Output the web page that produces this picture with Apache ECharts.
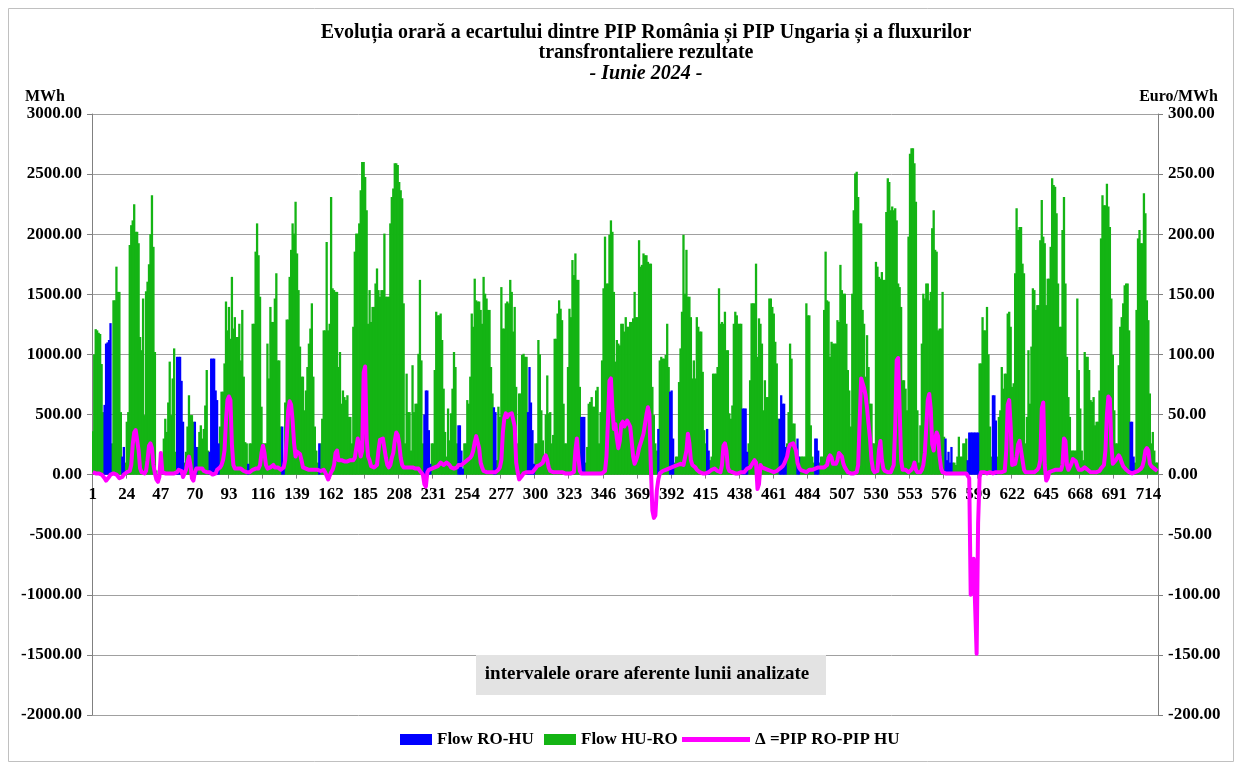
<!DOCTYPE html>
<html>
<head>
<meta charset="utf-8">
<script src="https://cdn.jsdelivr.net/npm/echarts@6/dist/echarts.min.js"></script>
<style>html,body{margin:0;padding:0;background:#fff;}#c{width:1242px;height:771px;}</style>
</head>
<body>
<div id="c"></div>
<script>
// ---------- DATA ----------
// Flow HU-RO (MWh), hours 1..720, one line per day
const greenFlow = [
360,1000,1210,1200,1180,1170,920,520,0,0,0,0,0,260,1450,1450,1730,1520,1520,520,0,0,100,440,
520,1910,2075,2115,2250,2020,2020,1925,1145,1035,1465,495,1525,1605,1750,2000,2325,1895,1020,35,0,0,0,0,
300,465,355,600,940,495,800,1050,190,0,0,0,0,0,100,190,400,660,495,495,440,0,0,230,
355,410,300,380,575,870,200,0,0,0,0,0,0,0,400,690,690,925,1440,1200,1395,1130,1645,1215,
1310,1145,1145,1255,950,1370,815,270,260,0,260,260,1255,1255,1855,2090,1825,1480,565,260,260,260,1090,800,
1395,1270,1270,1465,1675,950,950,400,0,0,600,1290,1290,1645,1870,2090,2005,2270,1840,1535,1065,815,815,535,
700,895,1090,1215,1425,815,400,200,100,0,260,465,1200,1200,1935,1200,1255,2310,1550,1535,1520,1520,895,1020,
590,700,645,620,660,480,480,260,1230,1855,2005,2005,2090,2365,2600,2600,2475,2200,1255,1535,1270,1395,1395,1590,
1715,1535,1480,1535,1535,2005,1480,1480,1480,2090,2310,2380,2590,2590,2575,2435,2365,2300,1425,260,840,520,520,200,
910,520,590,590,1005,1620,950,260,0,0,0,0,0,260,260,870,1355,1325,1325,1340,1120,715,355,150,
550,285,510,715,1020,895,260,0,0,0,0,260,260,620,590,815,1340,1230,1630,1450,1440,1440,1370,1255,
1645,1505,1465,1370,1370,895,675,0,0,120,565,480,1560,1215,1215,1425,1440,1425,1620,1520,1190,1395,730,260,
675,675,995,1005,980,980,0,0,0,0,0,260,260,1120,1000,535,285,150,500,825,510,520,260,330,
1130,1130,1340,1450,1380,1285,590,260,260,895,1380,1310,1785,1660,1840,1620,1620,730,0,0,0,100,230,590,
605,645,565,565,700,730,260,520,950,1550,1980,1590,1590,1995,2115,2020,1520,940,1120,1090,1075,1255,1255,1190,
1310,1230,1230,1270,1270,1300,1520,1310,1310,1950,1730,1745,1840,1825,1825,1770,1755,1755,730,495,260,200,0,950,
980,965,965,995,1255,895,0,0,0,100,150,150,770,1050,1355,1995,1505,1870,1480,1480,1310,800,950,800,
1310,1230,1190,1190,855,370,260,0,0,120,150,840,840,840,895,1550,1255,1270,1255,1355,1035,1035,510,465,
575,1255,1355,1325,1255,1255,1255,0,0,0,0,260,785,1425,1425,1425,1755,980,1300,1255,1090,535,785,645,
645,1465,1465,1395,1340,1105,925,465,0,0,0,0,0,260,520,1090,965,425,425,150,0,0,150,150,
150,150,1425,1325,1325,410,150,100,0,0,0,100,150,150,1370,1855,1450,1440,980,1105,1090,1090,1090,1285,
1270,1745,1535,1505,1505,1255,870,700,400,1505,2200,2505,2520,2310,2090,2090,1370,1255,815,1160,895,590,590,260,
260,1770,1730,1645,1630,1685,1620,1620,2185,2465,2435,2200,2230,2200,2215,2115,1590,1560,1395,785,785,715,535,1980,
2670,2715,2715,2590,2270,535,100,410,1090,1505,1465,1590,1590,1450,1520,2050,2200,1870,1855,1200,1215,1215,1520,315,
0,0,0,0,0,100,100,80,150,315,150,150,260,260,300,0,0,0,0,0,0,0,0,925,
925,1310,1200,1200,1395,1000,400,150,0,0,0,150,480,535,895,715,840,840,1340,1355,1230,730,760,1675,
2215,2035,2060,2060,1755,1675,260,480,1035,590,1065,1550,1535,1370,1410,1410,1950,2285,1980,1925,1410,1630,1630,1895,
2465,2410,2395,2175,1590,1230,1230,2035,2310,1590,980,645,480,200,200,200,200,1465,870,550,200,120,1020,980,
980,870,620,605,645,410,440,440,700,1965,2325,2240,2240,2420,2230,2060,1465,995,535,260,260,910,1230,1310,
1425,1575,1590,1590,1200,0,0,0,100,1370,1965,2035,1925,1925,2340,2175,1450,1285,675,260,355,200,100,100
];

// Flow RO-HU (MWh), hours 1..720, one line per day
const blueFlow = [
0,0,0,0,0,0,0,0,580,1090,1100,1120,1260,0,0,0,0,0,0,0,150,230,0,0,
0,0,0,0,0,0,0,0,0,0,0,0,0,0,0,0,0,0,0,0,0,0,0,0,
0,0,0,0,0,0,0,0,0,980,980,980,780,440,0,0,0,0,0,0,0,440,230,0,
0,0,0,0,0,0,0,190,965,965,965,700,620,260,0,0,0,0,0,0,0,0,0,0,
0,0,0,0,0,0,0,0,0,90,0,0,0,0,0,0,0,0,0,0,0,0,0,0,
0,0,0,0,0,0,0,0,400,100,0,0,0,0,0,0,0,0,0,0,0,0,0,0,
0,0,0,0,0,0,0,0,0,260,0,0,0,0,0,0,0,0,0,0,0,0,0,0,
0,0,0,0,0,0,0,0,0,0,0,0,0,0,0,0,0,0,0,0,0,0,0,0,
0,0,0,0,0,0,0,0,0,0,0,0,0,0,0,0,0,0,0,0,0,0,0,0,
0,0,0,0,0,0,0,0,500,700,700,370,90,0,0,0,0,0,0,0,0,0,0,0,
0,0,0,0,0,0,0,410,410,200,50,0,0,0,0,0,0,0,0,0,0,0,0,0,
0,0,0,0,0,0,0,560,520,0,0,0,0,0,0,0,0,0,0,0,0,0,0,0,
0,0,0,0,0,0,520,895,600,370,90,0,0,0,0,0,0,0,0,0,0,0,0,0,
0,0,0,0,0,0,0,0,0,0,0,0,0,0,0,0,0,0,480,480,480,0,0,0,
0,0,0,0,0,0,0,0,0,0,0,0,0,0,0,0,0,0,0,0,0,0,0,0,
0,0,0,0,0,0,0,0,0,0,0,0,0,0,0,0,0,0,0,0,0,0,380,0,
0,0,0,0,0,0,690,700,300,0,0,0,0,0,0,0,0,0,0,0,0,0,0,0,
0,0,0,0,0,0,0,380,200,0,0,0,0,0,0,0,0,0,0,0,0,0,0,0,
0,0,0,0,0,0,0,550,550,550,190,0,0,0,0,0,0,0,0,0,0,0,0,0,
0,0,0,0,0,0,0,0,465,660,590,590,230,0,0,0,0,0,0,0,300,150,0,0,
0,0,0,0,0,0,0,0,300,300,200,0,0,0,0,0,0,0,0,0,0,0,0,0,
0,0,0,0,0,0,0,0,0,0,0,0,0,0,0,0,0,0,0,0,0,0,0,0,
0,0,0,0,0,0,0,0,0,0,0,0,0,0,0,0,0,0,0,0,0,0,0,0,
0,0,0,0,0,0,0,0,0,0,0,0,0,0,0,0,0,0,0,0,0,0,0,0,
300,120,190,100,230,0,0,0,0,0,0,0,0,0,0,120,350,350,350,350,350,350,350,0,
0,0,0,0,0,0,0,0,660,660,450,0,0,0,0,0,0,0,0,0,0,0,0,0,
0,0,0,0,0,0,0,0,0,0,0,0,0,0,0,0,0,0,0,0,0,0,0,0,
0,0,0,0,0,0,0,0,0,0,0,0,0,0,0,0,0,0,0,0,0,0,0,0,
0,0,0,0,0,0,0,0,0,0,0,0,0,0,0,0,0,0,0,0,0,0,0,0,
0,0,0,0,0,440,440,150,0,0,0,0,0,0,0,0,0,0,0,0,0,0,0,0
];

// Δ = PIP RO - PIP HU (Euro/MWh), hours 1..720, one line per day
const priceDelta = [
2,1,1,0,1,1,0,-1,-3,-5,-6,-2,0,1,1,1,0,-1,-3,-4,-2,0,1,2,
2,3,8,25,35,37,36,20,5,2,1,1,3,12,24,26,22,8,1,-4,-6,-2,18,2,
1,1,2,1,0,1,2,1,0,2,4,4,3,-2,1,4,10,15,8,-3,-5,2,5,4,
5,4,5,3,4,2,3,2,1,0,1,1,4,5,6,8,12,20,45,62,65,62,25,8,
5,4,5,4,5,4,3,3,2,2,2,3,4,5,5,5,5,8,18,24,18,8,5,5,
6,7,8,6,5,6,5,4,5,6,12,30,53,61,58,45,26,15,19,19,17,12,6,5,
5,4,4,4,4,4,4,4,4,4,3,3,4,2,1,-4,-5,2,4,8,18,20,12,11,
12,11,11,12,11,11,12,11,12,14,22,30,24,15,20,85,90,30,15,12,7,6,6,6,
8,20,29,28,30,22,14,8,6,8,14,18,28,35,33,26,14,8,6,5,6,5,6,5,
6,6,5,6,5,3,2,0,-8,-10,2,4,5,5,6,6,7,7,8,10,9,8,8,10,
10,8,6,5,5,5,6,8,8,8,9,10,11,12,13,14,16,20,27,32,33,22,10,6,
3,2,2,2,2,2,2,2,2,2,4,6,12,35,47,51,48,50,51,51,50,40,10,2,
-4,-5,-1,1,2,2,2,2,2,2,3,5,7,8,8,9,10,14,16,12,6,3,2,2,
2,2,3,2,3,2,1,1,1,1,1,1,1,2,20,30,15,3,1,1,1,1,1,1,
1,1,1,1,1,1,1,1,1,1,3,15,45,78,80,55,38,42,30,22,28,42,44,40,
40,45,46,40,28,15,9,12,16,22,26,30,34,42,50,56,50,5,-30,-36,-34,-13,-4,1,
2,3,4,4,5,5,6,6,7,7,8,8,8,9,9,8,8,20,34,26,12,8,7,6,
4,3,2,1,1,1,1,1,2,3,4,5,5,4,3,2,2,8,24,26,20,6,3,2,
2,1,1,1,1,1,2,2,2,3,5,5,6,8,10,12,10,-12,-8,8,6,5,5,4,
4,4,3,3,2,2,3,4,5,6,7,9,12,15,22,25,26,26,26,20,10,6,4,3,
3,3,2,3,4,4,4,4,5,5,6,6,6,6,6,7,8,14,16,14,9,9,9,12,
18,19,15,9,6,4,2,1,1,1,1,1,2,8,45,80,76,72,66,55,42,30,12,4,
2,2,3,20,28,12,5,3,2,2,2,2,2,8,40,95,97,55,12,4,5,4,3,2,
3,4,6,10,4,2,2,2,4,8,18,40,62,67,55,25,20,30,35,32,15,5,2,1,
1,1,1,1,1,1,1,1,1,1,1,1,1,1,1,1,-3,-100,-100,-70,-110,-149,-40,-2,
2,2,2,2,1,1,2,2,1,1,2,2,2,2,2,2,3,20,58,62,40,8,8,9,
15,25,28,27,12,4,2,2,2,2,2,2,2,3,4,6,12,55,60,8,-5,-3,2,3,
3,4,4,5,4,4,4,8,30,28,8,4,5,9,13,13,11,7,4,4,4,4,6,6,
4,3,2,2,2,2,2,2,3,5,6,8,20,50,65,63,25,9,8,12,14,16,14,10,
7,6,4,3,2,1,1,1,2,2,3,4,5,7,12,20,22,20,9,7,6,5,4,3
];

// Hour categories 1..720 (labels shown every 23rd: 1, 24, 47, ... 714)
const hours = [];
for (let i = 1; i <= 720; i++) hours.push(String(i));

const leftTicks = {min: -2000, max: 3000, step: 500};
const rightTicks = {min: -200, max: 300, step: 50};

// ---------- CHART ----------
const SERIF = '"Liberation Serif", "Times New Roman", serif';
const GRID = {left: 92, right: 84, top: 114, bottom: 56};
const plotH = 771 - GRID.top - GRID.bottom;
// distance from the plot bottom up to the value 0 of the left axis
const zeroOffset = plotH * (0 - leftTicks.min) / (leftTicks.max - leftTicks.min);

const chart = echarts.init(document.getElementById('c'), null, {renderer: 'canvas'});
const yLbl = {fontFamily: SERIF, fontWeight: 'bold', fontSize: 17, color: '#000'};
const xLbl = {fontFamily: SERIF, fontWeight: 'bold', fontSize: 17, color: '#000'};
const lgText = {fontFamily: SERIF, fontWeight: 'bold', fontSize: 17, color: '#000'};
const warn = (greenFlow.length !== 720 || blueFlow.length !== 720 || priceDelta.length !== 720)
  ? ('LEN ' + greenFlow.length + ' ' + blueFlow.length + ' ' + priceDelta.length) : '';

chart.setOption({
  animation: false,
  backgroundColor: '#ffffff',
  grid: Object.assign({containLabel: false}, GRID),
  xAxis: {
    type: 'category', data: hours, boundaryGap: true, position: 'bottom',
    offset: -zeroOffset,
    axisLine: {show: true, onZero: false, lineStyle: {color: '#808080', width: 1}},
    axisTick: {show: true, interval: 22, length: 4, lineStyle: {color: '#808080'}},
    axisLabel: Object.assign({interval: 22, margin: 12}, xLbl),
    splitLine: {show: false}
  },
  yAxis: [{
    type: 'value', position: 'left', min: leftTicks.min, max: leftTicks.max, interval: leftTicks.step,
    axisLine: {show: true, onZero: false, lineStyle: {color: '#808080'}},
    axisTick: {show: true, length: 5, lineStyle: {color: '#808080'}},
    axisLabel: Object.assign({margin: 10, formatter: v => v.toFixed(2)}, yLbl),
    splitLine: {show: true, lineStyle: {color: '#a0a0a0', width: 1}}
  }, {
    type: 'value', position: 'right', min: rightTicks.min, max: rightTicks.max, interval: rightTicks.step,
    axisLine: {show: true, onZero: false, lineStyle: {color: '#808080'}},
    axisTick: {show: true, length: 5, lineStyle: {color: '#808080'}},
    axisLabel: Object.assign({margin: 10, formatter: v => v.toFixed(2)}, yLbl),
    splitLine: {show: false}
  }],
  legend: [
    {data: ['Flow RO-HU'], left: 400, top: 731, padding: 0, icon: 'rect', itemWidth: 32, itemHeight: 11, textStyle: lgText},
    {data: ['Flow HU-RO'], left: 544, top: 731, padding: 0, icon: 'rect', itemWidth: 32, itemHeight: 11, textStyle: lgText},
    {data: ['Δ =PIP RO-PIP HU'], left: 682, top: 731, padding: 0, icon: 'rect', itemWidth: 68, itemHeight: 5, textStyle: lgText}
  ],
  series: [
    {name: 'Flow HU-RO', type: 'bar', data: greenFlow, barGap: '-100%', barWidth: 2.3,
     itemStyle: {color: '#14B414'}},
    {name: 'Flow RO-HU', type: 'bar', data: blueFlow, barGap: '-100%', barWidth: 2.3,
     itemStyle: {color: '#0000FF'}},
    {name: 'Δ =PIP RO-PIP HU', type: 'line', yAxisIndex: 1, data: priceDelta,
     showSymbol: false, symbol: 'none', z: 5,
     lineStyle: {color: '#FF00FF', width: 4, join: 'round'}, itemStyle: {color: '#FF00FF'}}
  ],
  graphic: [
    {type: 'rect', silent: true, z: -10, shape: {x: 8.5, y: 8.5, width: 1225, height: 753},
     style: {fill: 'none', stroke: '#c0c0c0', lineWidth: 1}},
    {type: 'text', x: 646, y: 33, style: {text: 'Evoluția orară a ecartului dintre PIP România și PIP Ungaria și a fluxurilor',
      font: 'bold 20px ' + SERIF, textAlign: 'center', textVerticalAlign: 'middle', fill: '#000'}},
    {type: 'text', x: 646, y: 53, style: {text: 'transfrontaliere rezultate',
      font: 'bold 20px ' + SERIF, textAlign: 'center', textVerticalAlign: 'middle', fill: '#000'}},
    {type: 'text', x: 646, y: 74, style: {text: '- Iunie 2024 -',
      font: 'italic bold 20px ' + SERIF, textAlign: 'center', textVerticalAlign: 'middle', fill: '#000'}},
    {type: 'text', x: 25, y: 97, style: {text: 'MWh', font: 'bold 16px ' + SERIF,
      textAlign: 'left', textVerticalAlign: 'middle', fill: '#000'}},
    {type: 'text', x: 1218, y: 97, style: {text: 'Euro/MWh', font: 'bold 16px ' + SERIF,
      textAlign: 'right', textVerticalAlign: 'middle', fill: '#000'}},
    {type: 'rect', left: 476, top: 655, shape: {width: 350, height: 40}, z: 10,
     style: {fill: '#e3e3e3'}},
    {type: 'text', x: 647, y: 674, z: 11, style: {text: 'intervalele orare aferente lunii analizate',
      font: 'bold 19px ' + SERIF, textAlign: 'center', textVerticalAlign: 'middle', fill: '#000'}},
    {type: 'text', x: 20, y: 20, style: {text: warn, font: 'bold 14px sans-serif', fill: 'red'}}
  ]
});
</script>
</body>
</html>
